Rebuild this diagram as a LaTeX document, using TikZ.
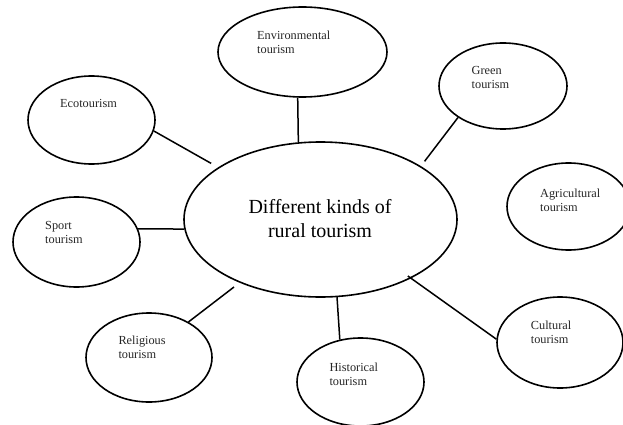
\documentclass[tikz,border=0pt]{standalone}
\usepackage{fontspec}
\setmainfont{Liberation Serif}
\usetikzlibrary{shapes.geometric}
\begin{document}
\begin{tikzpicture}[x=1pt,y=-1pt,
  bubble/.style={draw=black, line width=1.6pt, ellipse, inner sep=0pt},
  link/.style={draw=black, line width=1.5pt},
  lbl/.style={inner sep=0pt, anchor=base west, font=\fontsize{12.3}{14}\selectfont, text=black!85},
  big/.style={inner sep=0pt, anchor=base, font=\fontsize{20}{24}\selectfont}]
\useasboundingbox (0,0) rectangle (623,425);
% ellipses
\node[bubble, minimum width=273pt, minimum height=155pt] (c) at (320.5,219.5) {};
\node[bubble, minimum width=169pt, minimum height=90pt] (env) at (302.5,52) {};
\node[bubble, minimum width=127pt, minimum height=88pt] (eco) at (91.5,120) {};
\node[bubble, minimum width=128pt, minimum height=86pt] (green) at (503,86) {};
\node[bubble, minimum width=123pt, minimum height=87pt] (agri) at (568.5,206.5) {};
\node[bubble, minimum width=127pt, minimum height=90pt] (sport) at (76.5,242) {};
\node[bubble, minimum width=126pt, minimum height=89pt] (rel) at (149,357.5) {};
\node[bubble, minimum width=127pt, minimum height=88pt] (hist) at (360.5,382) {};
\node[bubble, minimum width=126pt, minimum height=91pt] (cult) at (560,342.5) {};
% labels
\node[big] (ct) at (320,213) {\begin{tabular}[t]{@{}c@{}}Different kinds of\\rural tourism\end{tabular}};
\node[lbl] (envt) at (257,40) {\begin{tabular}[t]{@{}l@{}}Environmental\\tourism\end{tabular}};
\node[lbl] (ecot) at (60,108) {Ecotourism};
\node[lbl] (greent) at (471.5,75) {\begin{tabular}[t]{@{}l@{}}Green\\tourism\end{tabular}};
\node[lbl] (agrit) at (540,197) {\begin{tabular}[t]{@{}l@{}}Agricultural\\tourism\end{tabular}};
\node[lbl] (sportt) at (45,229.5) {\begin{tabular}[t]{@{}l@{}}Sport\\tourism\end{tabular}};
\node[lbl] (relt) at (118.3,344) {\begin{tabular}[t]{@{}l@{}}Religious\\tourism\end{tabular}};
\node[lbl] (histt) at (329.3,371) {\begin{tabular}[t]{@{}l@{}}Historical\\tourism\end{tabular}};
\node[lbl] (cultt) at (530.7,329) {\begin{tabular}[t]{@{}l@{}}Cultural\\tourism\end{tabular}};
% connectors
\draw[link] (env.-96) -- (c.106);
\draw[link, shorten >=8pt] (eco.-10) -- (c.153);
\draw[link, shorten >=6pt] (green.-145) -- (c.28);
\draw[link] (sport.12) -- (c.-176);
\draw[link, shorten >=7pt] (rel.42) -- (c.-142);
\draw[link] (hist.116) -- (c.-78);
\draw[link, shorten >=-4pt] (cult.177) -- (c.-33);
\end{tikzpicture}
\end{document}
